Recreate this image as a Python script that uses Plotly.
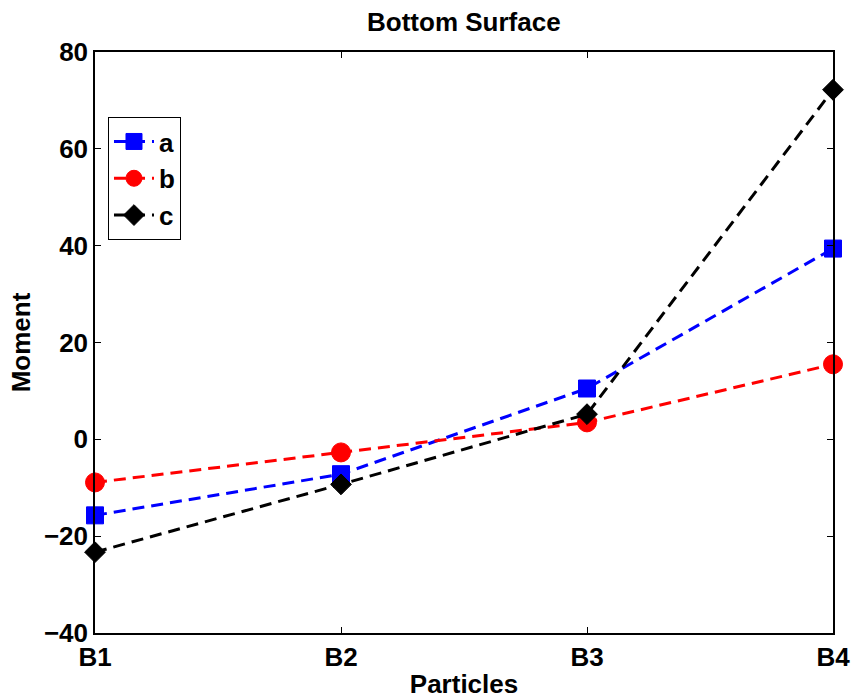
import plotly.graph_objects as go

categories = ["B1", "B2", "B3", "B4"]
series_names = ["a", "b", "c"]
a_vals = [-15.7, -7.2, 10.5, 39.4]
b_vals = [-8.9, -2.7, 3.5, 15.5]
c_vals = [-23.3, -9.3, 5.2, 72.2]
y_ticks = [-40, -20, 0, 20, 40, 60, 80]

FONT = "Liberation Sans, Arial, Helvetica, sans-serif"
FS = 26
x_pos = list(range(len(categories)))

styles = [
    dict(color="#0000ff", symbol="square", size=17),
    dict(color="#ff0000", symbol="circle", size=19),
    dict(color="#000000", symbol="diamond", size=16),
]

fig = go.Figure()
for name, vals, st in zip(series_names, [a_vals, b_vals, c_vals], styles):
    fig.add_trace(go.Scatter(
        x=x_pos, y=vals, name=name, mode="lines+markers",
        line=dict(color=st["color"], width=3, dash="12px,7px"),
        marker=dict(symbol=st["symbol"], size=st["size"], color=st["color"],
                    line=dict(color=st["color"], width=1)),
        cliponaxis=False,
    ))

bold = dict(family=FONT, size=FS, color="#000000", weight="bold")

axis_common = dict(
    showline=True, linecolor="#000000", linewidth=1.5, mirror="ticks",
    ticks="inside", ticklen=6, tickwidth=1, tickcolor="#000000",
    showgrid=False, zeroline=False, automargin=False,
    tickfont=bold,
)

fig.update_layout(
    width=855, height=700,
    margin=dict(l=95, r=22, t=52, b=67),
    paper_bgcolor="#ffffff", plot_bgcolor="#ffffff",
    font=bold,
    title=dict(text="Bottom Surface", x=0.5425, xanchor="center",
               y=1 - 22 / 700, yanchor="middle", yref="container", font=bold),
    xaxis=dict(range=[0, len(categories) - 1], tickvals=x_pos, ticktext=categories,
               title=dict(text="Particles", standoff=4, font=bold),
               **axis_common),
    yaxis=dict(range=[y_ticks[0], y_ticks[-1]], tickvals=y_ticks,
               title=dict(text="Moment", standoff=6, font=bold),
               **axis_common),
    legend=dict(x=0.0176, y=0.888, xanchor="left", yanchor="top",
                bordercolor="#000000", borderwidth=1, bgcolor="#ffffff",
                font=bold, itemwidth=40, tracegroupgap=0),
    showlegend=True,
)

fig.write_html("out.html")
